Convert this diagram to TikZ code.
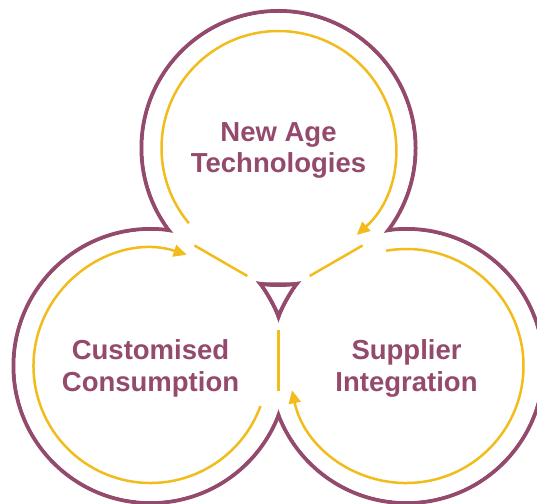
\documentclass[tikz,border=0pt]{standalone}
\usepackage{fontspec}
\setmainfont{Liberation Sans}
\usetikzlibrary{arrows.meta,shapes.geometric}

\definecolor{plum}{HTML}{944A6C}
\definecolor{amber}{HTML}{F2BC1C}

\tikzset{
  rim/.style={draw=plum, line width=4pt},
  disc/.style={circle, fill=white, inner sep=0pt, outer sep=0pt, minimum size=270pt},
  ringtext/.style={align=center, text=plum, font=\fontsize{27.5}{31.7}\selectfont\bfseries},
  flow/.style={draw=amber, line width=2.5pt},
  flowtip/.style={flow, -{Triangle[length=13pt,width=12pt]}},
  hub/.style={regular polygon, regular polygon sides=3, shape border rotate=180,
    draw=plum, line width=3pt, line join=round, minimum size=40pt, inner sep=0pt}
}

\begin{document}
\begin{tikzpicture}[x=1pt, y=1pt]
    \useasboundingbox (0,0) rectangle (537,503);
    \clip (0,0) rectangle (537,503);

    % outer rims, then white discs hide the overlapping parts
    \draw[rim] (278.5,355) circle (137);
    \draw[rim] (150.5,137) circle (137);
    \draw[rim] (406.5,137) circle (137);
    \node[disc] at (278.5,355)(tech){};
    \node[disc] at (150.5,137)(cons){};
    \node[disc] at (406.5,137)(supp){};

    \node[ringtext] at ([yshift=-2.5pt]tech.center)(techtext){New Age\\Technologies};
    \node[ringtext] at ([yshift=-2.5pt]cons.center)(constext){Customised\\Consumption};
    \node[ringtext] at ([yshift=-2.5pt]supp.center)(supptext){Supplier\\Integration};

    \node[hub] at (278.5,209)(hub){};

    % cycle arrows
    \draw[flowtip] ([shift={(220:117)}]tech.center) arc[start angle=220, end angle=-48, radius=117];
    \draw[flowtip] ([shift={(340:117)}]cons.center) arc[start angle=340, end angle=72, radius=117];
    \draw[flowtip] ([shift={(100:117)}]supp.center) arc[start angle=100, end angle=-168, radius=117];

    \foreach \a in {30,150,270}
        \draw[flow] ([shift={(\a:36)}]hub.center) -- ([shift={(\a:97)}]hub.center);
\end{tikzpicture}
\end{document}
